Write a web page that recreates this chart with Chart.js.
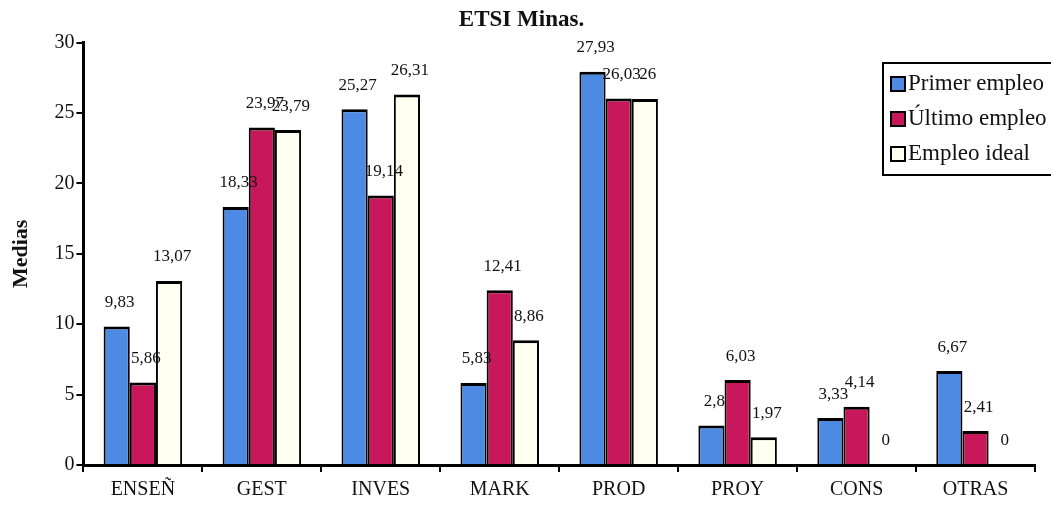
<!DOCTYPE html>
<html>
<head>
<meta charset="utf-8">
<script src="https://cdn.jsdelivr.net/npm/chart.js@4.4.0/dist/chart.umd.min.js"></script>
<style>
  html, body { margin: 0; padding: 0; background: #fff; }
  #wrap { width: 1051px; height: 509px; position: relative; }
</style>
</head>
<body>
<div id="wrap"><canvas id="chart"></canvas></div>
<script>
const categories = ['ENSEÑ', 'GEST', 'INVES', 'MARK', 'PROD', 'PROY', 'CONS', 'OTRAS'];
const seriesNames = ['Primer empleo', 'Último empleo', 'Empleo ideal'];
const primerEmpleo = [9.83, 18.33, 25.27, 5.83, 27.93, 2.8, 3.33, 6.67];
const ultimoEmpleo = [5.86, 23.97, 19.14, 12.41, 26.03, 6.03, 4.14, 2.41];
const empleoIdeal = [13.07, 23.79, 26.31, 8.86, 26, 1.97, 0, 0];
const yTicks = [0, 5, 10, 15, 20, 25, 30];

const colors = ['#4d8ae4', '#c8175a', '#fffff2'];
const serif = "'Liberation Serif', 'Times New Roman', serif";

// comma decimals like the original
const fmt = v => String(v).replace('.', ',');

// labels above each bar
const valueLabels = {
  id: 'valueLabels',
  afterDatasetsDraw(chart) {
    const ctx = chart.ctx;
    ctx.save();
    ctx.font = '17px ' + serif;
    ctx.fillStyle = '#111';
    ctx.textAlign = 'center';
    ctx.textBaseline = 'middle';
    chart.data.datasets.forEach((ds, i) => {
      const meta = chart.getDatasetMeta(i);
      meta.data.forEach((bar, j) => {
        ctx.fillText(fmt(ds.data[j]), bar.x + 3, bar.y - 24);
      });
    });
    ctx.restore();
  }
};

// boxed legend in the top right corner
const boxLegend = {
  id: 'boxLegend',
  afterDraw(chart) {
    const ctx = chart.ctx;
    const x = 883, y = 63, w = 172, h = 112;
    ctx.save();
    ctx.fillStyle = '#fff';
    ctx.fillRect(x, y, w, h);
    ctx.strokeStyle = '#000';
    ctx.lineWidth = 2;
    ctx.strokeRect(x, y, w, h);
    ctx.font = '23px ' + serif;
    ctx.textBaseline = 'middle';
    seriesNames.forEach((name, i) => {
      const cy = y + 21 + i * 35;
      ctx.fillStyle = colors[i];
      ctx.fillRect(x + 8, cy - 7, 14, 14);
      ctx.lineWidth = 2;
      ctx.strokeRect(x + 8, cy - 7, 14, 14);
      ctx.fillStyle = '#111';
      ctx.fillText(name, x + 25, cy);
    });
    ctx.restore();
  }
};

const datasets = [primerEmpleo, ultimoEmpleo, empleoIdeal].map((d, i) => ({
  label: seriesNames[i],
  data: d,
  backgroundColor: colors[i],
  borderColor: '#000',
  borderWidth: { top: 3, left: 2, right: 2, bottom: 0 },
  borderSkipped: 'bottom',
  categoryPercentage: 0.66,
  barPercentage: 1.0
}));

new Chart(document.getElementById('chart'), {
  type: 'bar',
  data: { labels: categories, datasets: datasets },
  options: {
    responsive: true,
    maintainAspectRatio: false,
    animation: false,
    layout: { padding: { left: 8, right: 16, top: 2, bottom: 1 } },
    plugins: {
      legend: { display: false },
      tooltip: { enabled: false },
      title: {
        display: true,
        text: 'ETSI Minas.',
        color: '#111',
        font: { family: serif, size: 23, weight: 'bold' },
        padding: { top: 4, bottom: 9 }
      }
    },
    scales: {
      x: {
        grid: {
          display: true,
          drawOnChartArea: false,
          drawTicks: true,
          tickLength: 7,
          color: '#000',
          lineWidth: 2
        },
        border: { display: true, color: '#000', width: 3 },
        ticks: {
          color: '#111',
          font: { family: serif, size: 20, lineHeight: 1.0 },
          padding: 8
        }
      },
      y: {
        min: 0,
        max: 30,
        afterBuildTicks: axis => { axis.ticks = yTicks.map(v => ({ value: v })); },
        grid: {
          display: true,
          drawOnChartArea: false,
          tickLength: 7,
          color: '#000',
          lineWidth: 2
        },
        border: { display: true, color: '#000', width: 3 },
        ticks: {
          color: '#111',
          font: { family: serif, size: 20 },
          padding: 2
        },
        title: {
          display: true,
          text: 'Medias',
          color: '#111',
          font: { family: serif, size: 22, weight: 'bold' },
          padding: { top: 0, bottom: 18 }
        }
      }
    }
  },
  plugins: [valueLabels, boxLegend]
});
</script>
</body>
</html>
